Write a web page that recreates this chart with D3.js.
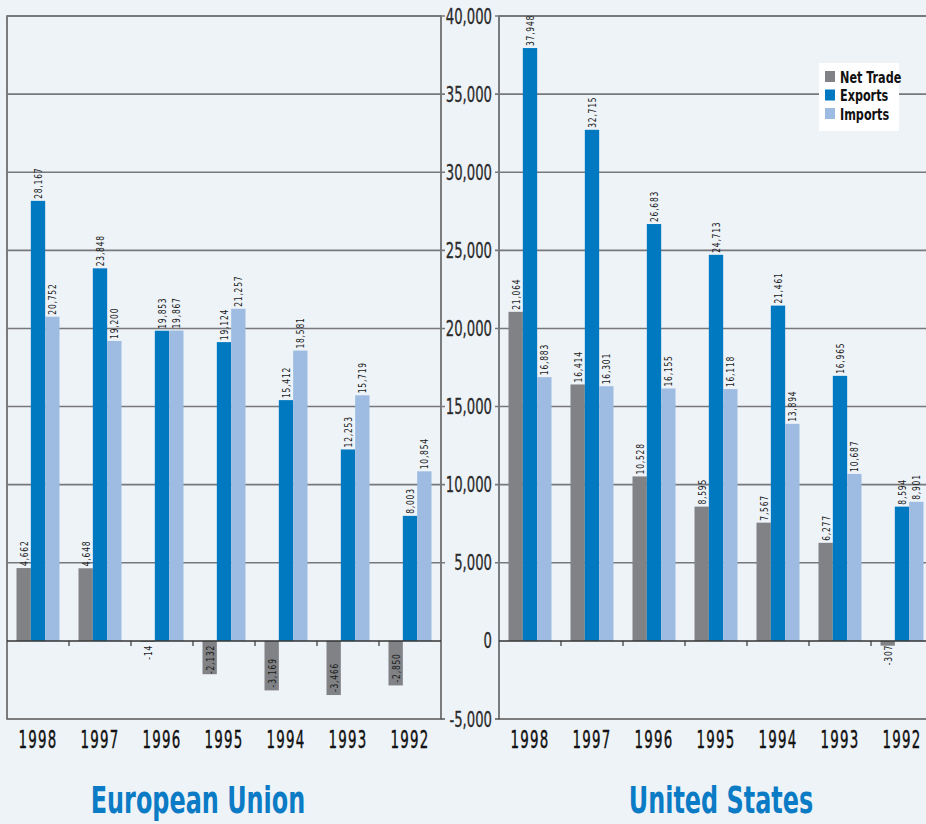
<!DOCTYPE html>
<html>
<head>
<meta charset="utf-8">
<script src="https://cdn.jsdelivr.net/npm/d3@7"></script>
<style>
  html, body { margin: 0; padding: 0; background: #eef3f8; }
  svg { display: block; }
  text { font-family: "Liberation Sans Narrow", "DejaVu Sans Condensed", "DejaVu Sans", sans-serif; }
</style>
</head>
<body>
<div id="chart"></div>
<script>
var years = ["1998", "1997", "1996", "1995", "1994", "1993", "1992"];
var series = ["Net Trade", "Exports", "Imports"];
var colors = ["#808285", "#0079c1", "#9ebce2"];

var euNet = [4662, 4648, -14, -2132, -3169, -3466, -2850];
var euExports = [28167, 23848, 19853, 19124, 15412, 12253, 8003];
var euImports = [20752, 19200, 19867, 21257, 18581, 15719, 10854];

var usNet = [21064, 16414, 10528, 8595, 7567, 6277, -307];
var usExports = [37948, 32715, 26683, 24713, 21461, 16965, 8594];
var usImports = [16883, 16301, 16155, 16118, 13894, 10687, 8901];

var yTicks = [-5000, 0, 5000, 10000, 15000, 20000, 25000, 30000, 35000, 40000];

var width = 926, height = 824;
var comma = d3.format(",");
function fmt(v) { return comma(v).replace("\u2212", "-"); }

var svg = d3.select("#chart").append("svg")
    .attr("width", width)
    .attr("height", height);

svg.append("rect").attr("width", width).attr("height", height).attr("fill", "#eef3f8");

var y = d3.scaleLinear()
    .domain([-5000, 40000])
    .range([719, 16]);

var panels = [
  {name: "European Union", net: euNet, exp: euExports, imp: euImports, x0: 7, x1: 441, side: "right", title: 198},
  {name: "United States", net: usNet, exp: usExports, imp: usImports, x0: 499, x1: 933, side: "left", title: 721}
];

panels.forEach(function(p) {
  var g = svg.append("g");

  var x = d3.scaleBand()
      .domain(years)
      .range([p.x0, p.x1]);

  var xs = d3.scaleBand()
      .domain(series)
      .range([9.5, x.bandwidth() - 9.5]);

  // frame
  g.append("rect")
      .attr("x", p.x0).attr("y", y(40000))
      .attr("width", p.x1 - p.x0).attr("height", y(-5000) - y(40000))
      .attr("fill", "none")
      .attr("stroke", "#555")
      .attr("stroke-width", 1.5);

  // gridlines, with a little tick on the value axis side
  var tx0 = p.side === "right" ? p.x0 : p.x0 - 4;
  var tx1 = p.side === "right" ? p.x1 + 4 : p.x1;
  g.selectAll(".grid")
      .data(yTicks.filter(function(d) { return d !== 0 && d !== -5000; }))
    .enter().append("line")
      .attr("class", "grid")
      .attr("x1", tx0).attr("x2", tx1)
      .attr("y1", function(d) { return y(d); })
      .attr("y2", function(d) { return y(d); })
      .attr("stroke", "#77787b")
      .attr("stroke-width", 1.6);

  g.append("line")
      .attr("x1", p.side === "right" ? p.x1 : p.x0 - 4)
      .attr("x2", p.side === "right" ? p.x1 + 4 : p.x0)
      .attr("y1", y(-5000)).attr("y2", y(-5000))
      .attr("stroke", "#555").attr("stroke-width", 1.5);

  var rows = years.map(function(yr, i) {
    return {year: yr, values: [p.net[i], p.exp[i], p.imp[i]]};
  });

  var grp = g.selectAll(".year")
      .data(rows)
    .enter().append("g")
      .attr("class", "year")
      .attr("transform", function(d) { return "translate(" + x(d.year) + ",0)"; });

  grp.selectAll("rect")
      .data(function(d) { return d.values.map(function(v, k) { return {s: series[k], k: k, v: v}; }); })
    .enter().append("rect")
      .attr("x", function(d) { return xs(d.s); })
      .attr("width", xs.bandwidth())
      .attr("y", function(d) { return d.v >= 0 ? y(d.v) : y(0); })
      .attr("height", function(d) { return Math.max(1, Math.abs(y(d.v) - y(0))); })
      .attr("fill", function(d) { return colors[d.k]; });

  // zero line
  g.append("line")
      .attr("x1", p.x0).attr("x2", p.x1)
      .attr("y1", y(0)).attr("y2", y(0))
      .attr("stroke", "#333").attr("stroke-width", 1.5);

  // category ticks between groups
  g.selectAll(".ctick")
      .data(years.slice(1))
    .enter().append("line")
      .attr("x1", function(d) { return x(d); })
      .attr("x2", function(d) { return x(d); })
      .attr("y1", y(0)).attr("y2", y(0) + 5)
      .attr("stroke", "#333").attr("stroke-width", 1.2);

  // value labels
  grp.selectAll(".val")
      .data(function(d) { return d.values.map(function(v, k) { return {s: series[k], k: k, v: v}; }); })
    .enter().append("text")
      .attr("class", "val")
      .attr("font-size", "10.5px")
      .attr("letter-spacing", "1px")
      .attr("fill", "#1a1a1a")
      .attr("dominant-baseline", "central")
      .text(function(d) { return fmt(d.v); })
      .each(function(d) {
        var t = d3.select(this);
        var len = this.getComputedTextLength() * 0.8;
        var cx = xs(d.s) + xs.bandwidth() / 2;
        var h = Math.abs(y(d.v) - y(0));
        var pos, anchor;
        if (d.v >= 0) { pos = y(d.v) - 2; anchor = "start"; }
        else if (h > len + 6) { pos = y(d.v) - 3; anchor = "start"; }
        else { pos = y(0) + 4; anchor = "end"; }
        t.attr("text-anchor", anchor)
         .attr("transform", "translate(" + cx + "," + pos + ") rotate(-90) scale(0.8,1)");
      });

  // year labels
  g.selectAll(".yr")
      .data(years)
    .enter().append("text")
      .attr("class", "yr")
      .attr("text-anchor", "middle")
      .attr("font-size", "24px")
      .attr("letter-spacing", "2px")
      .attr("fill", "#111")
      .attr("stroke", "#111")
      .attr("stroke-width", 0.4)
      .attr("transform", function(d) { return "translate(" + (x(d) + x.bandwidth() / 2) + ",748) scale(0.62,1)"; })
      .text(function(d) { return d; });

  // panel title
  g.append("text")
      .attr("text-anchor", "middle")
      .attr("font-size", "38px")
      .attr("font-weight", "bold")
      .attr("fill", "#0a7bc4")
      .attr("transform", "translate(" + p.title + ",813) scale(0.7,1)")
      .text(p.name);
});

// value axis labels between the panels
svg.selectAll(".ylab")
    .data(yTicks)
  .enter().append("text")
    .attr("class", "ylab")
    .attr("text-anchor", "end")
    .attr("font-size", "21px")
    .attr("fill", "#2b2b2b")
    .attr("stroke", "#2b2b2b")
    .attr("stroke-width", 0.3)
    .attr("dominant-baseline", "central")
    .attr("transform", function(d) { return "translate(492," + y(d) + ") scale(0.7,1)"; })
    .text(function(d) { return fmt(d); });

// legend
var legend = svg.append("g").attr("transform", "translate(819,63)");
legend.append("rect").attr("width", 80).attr("height", 68).attr("fill", "#fff");
var li = legend.selectAll(".li")
    .data(series)
  .enter().append("g")
    .attr("class", "li")
    .attr("transform", function(d, i) { return "translate(6," + (8 + i * 18.5) + ")"; });
li.append("rect").attr("width", 10).attr("height", 11)
    .attr("fill", function(d, i) { return colors[i]; });
li.append("text")
    .attr("dominant-baseline", "central")
    .attr("font-size", "16px")
    .attr("font-weight", "bold")
    .attr("fill", "#111")
    .attr("transform", "translate(15,6) scale(0.78,1)")
    .text(function(d) { return d; });
</script>
</body>
</html>
